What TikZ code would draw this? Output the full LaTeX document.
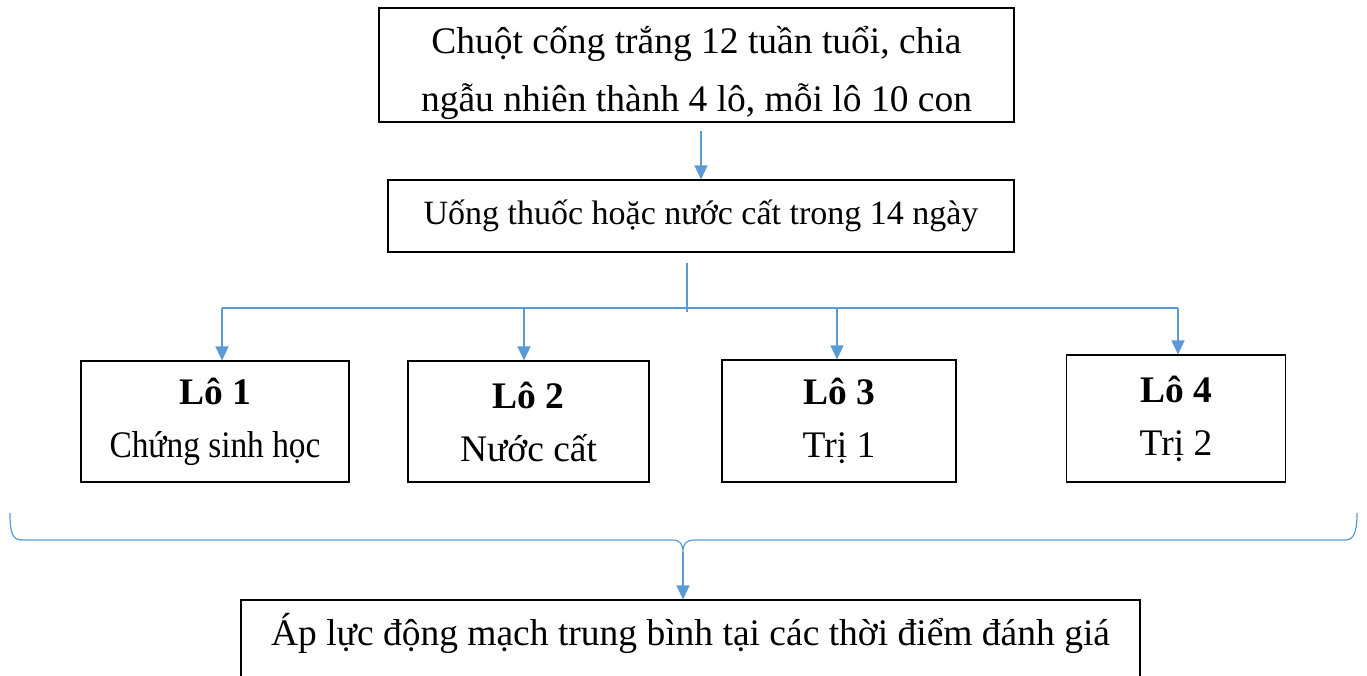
\documentclass[tikz,border=0pt]{standalone}
\usepackage{fontspec}
\setmainfont{Liberation Serif}
\usetikzlibrary{positioning, arrows.meta}
\definecolor{flowblue}{RGB}{91,155,213}

\begin{document}
\begin{tikzpicture}[x=1pt,y=-1pt,
    box/.style={draw, line width=1.1pt, inner sep=0pt, align=center,
      font=\fontsize{37.5}{58}\selectfont},
    lobox/.style={box, font=\fontsize{37.5}{53}\selectfont},
    link/.style={draw=flowblue, line width=1.4pt},
    arr/.style={link, -{Triangle[length=14pt,width=13pt]}}]
  \useasboundingbox (0,0) rectangle (1367,675);

  %%% CAC BUOC %%%
  \node[box, minimum width=635pt, minimum height=114pt] (chuot) at (696.5,65)
    {\rule{0pt}{44pt}Chuột cống trắng 12 tuần tuổi, chia\\ngẫu nhiên thành 4 lô, mỗi lô 10 con};
  \node[box, minimum width=626pt, minimum height=72pt,
      font=\fontsize{34}{40}\selectfont] (uong) at (701,216)
    {Uống thuốc hoặc nước cất trong 14 ngày};

  % Cac lo
  \node[lobox, minimum width=268pt, minimum height=121pt] (lo1) at (215,421.5)
    {\textbf{Lô 1}\\\scalebox{0.89}[1]{Chứng sinh học}};
  \node[lobox, minimum width=241pt, minimum height=121pt] (lo2) at (528.5,421.5)
    {\textbf{Lô 2}\\Nước cất};
  \node[lobox, minimum width=234pt, minimum height=122pt] (lo3) at (839,421)
    {\textbf{Lô 3}\\Trị 1};
  \node[lobox, minimum width=219pt, minimum height=127pt] (lo4) at (1176,418.5)
    {\textbf{Lô 4}\\Trị 2};

  % Ket qua
  \node[box, minimum width=899pt, minimum height=92pt, text depth=34pt] (ketqua) at (690.5,646)
    {Áp lực động mạch trung bình tại các thời điểm đánh giá};

  %%% DUONG NOI %%%
  \coordinate (chia) at (687,308);
  \coordinate (gom) at (683,552);
  % diem vao cua tung lo
  \coordinate (vao1) at ([xshift=7pt]lo1.north);
  \coordinate (vao2) at ([xshift=-4.5pt]lo2.north);
  \coordinate (vao3) at ([xshift=-2pt]lo3.north);
  \coordinate (vao4) at ([xshift=2pt]lo4.north);

  \draw[arr, shorten <=8pt] (chuot.south -| uong.north) -- (uong.north);

  \draw[link, shorten <=10pt] (uong.south -| chia) -- ([yshift=-4pt]chia);
  \draw[link] (chia -| vao1) -- (chia -| vao4);
  \foreach \i in {1,...,4}
    \draw[arr] (chia -| vao\i) -- (vao\i);

  % ngoac gom 4 lo
  \draw[link, line width=1.2pt] (10,513) .. controls (10,532) and (12,540) .. (22,540)
    -- (672,540) .. controls (680,540) and (683,544) .. (gom)
    .. controls (683,544) and (686,540) .. (694,540)
    -- (1345,540) .. controls (1354,540) and (1357,532) .. (1357,513);
  \draw[arr] (gom) -- (gom |- ketqua.north);
\end{tikzpicture}
\end{document}
